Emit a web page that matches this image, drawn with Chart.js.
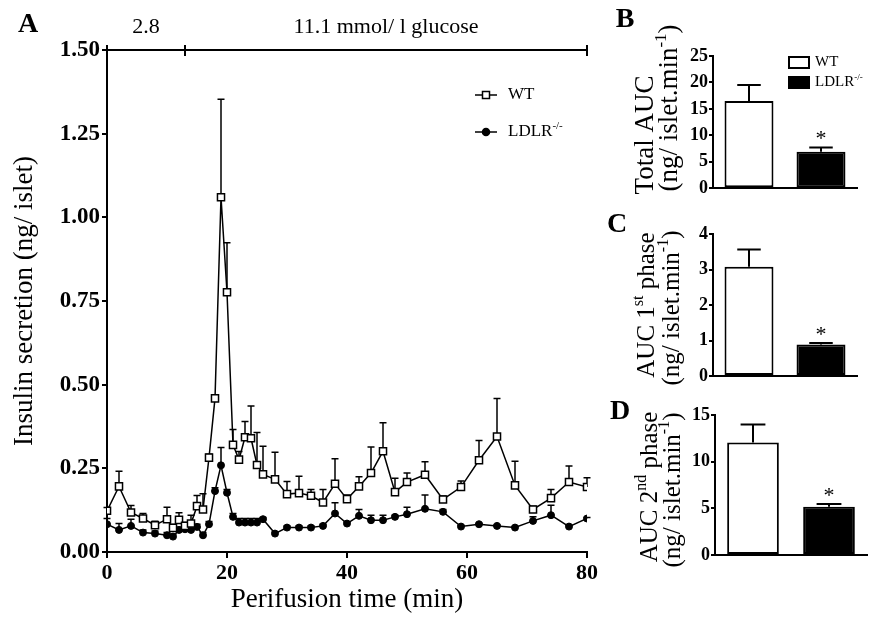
<!DOCTYPE html>
<html><head><meta charset="utf-8">
<script src="https://cdn.jsdelivr.net/npm/chart.js@4.4.0/dist/chart.umd.min.js"></script>
<style>
html,body{margin:0;padding:0;background:#fff;}
body{width:876px;height:619px;position:relative;overflow:hidden;}
canvas{position:absolute;}
</style></head><body>
<canvas id="cA" width="600" height="619" style="left:0;top:0;width:600px;height:619px"></canvas>
<canvas id="cB" width="276" height="200" style="left:600px;top:0;width:276px;height:200px"></canvas>
<canvas id="cC" width="276" height="190" style="left:600px;top:200px;width:276px;height:190px"></canvas>
<canvas id="cD" width="276" height="229" style="left:600px;top:390px;width:276px;height:229px"></canvas>
<script>
// ---------- Panel A data ----------
const times = [0,2,4,6,8,10,11,12,13,14,15,16,17,18,19,20,21,22,23,24,25,26,28,30,32,34,36,38,40,42,44,46,48,50,53,56,59,62,65,68,71,74,77,80];
const wtMean = [0.123,0.196,0.118,0.100,0.080,0.098,0.072,0.096,0.078,0.085,0.137,0.127,0.282,0.459,1.060,0.776,0.320,0.276,0.343,0.340,0.260,0.232,0.217,0.173,0.176,0.168,0.148,0.204,0.158,0.196,0.236,0.301,0.179,0.209,0.231,0.157,0.194,0.274,0.345,0.199,0.127,0.161,0.209,0.194];
const wtSem = [0.010,0.045,0.021,0.015,0.012,0.036,0.010,0.021,0.010,0.025,0.032,0.047,0.010,0.008,0.293,0.148,0.046,0.024,0.047,0.096,0.097,0.084,0.081,0.038,0.050,0.019,0.039,0.075,0.012,0.029,0.078,0.085,0.041,0.027,0.039,0.010,0.018,0.059,0.114,0.072,0.010,0.026,0.048,0.028];
const ldlrMean = [0.083,0.066,0.078,0.058,0.055,0.050,0.046,0.066,0.068,0.066,0.075,0.050,0.083,0.182,0.259,0.177,0.105,0.088,0.088,0.088,0.088,0.098,0.055,0.073,0.073,0.073,0.078,0.115,0.085,0.108,0.095,0.095,0.105,0.113,0.129,0.120,0.076,0.083,0.078,0.073,0.093,0.110,0.076,0.100];
const ldlrSem = [0.017,0.019,0.020,0.008,0.008,0.008,0.008,0.008,0.008,0.008,0.008,0.008,0.008,0.010,0.053,0.010,0.010,0.012,0.012,0.012,0.012,0.005,0.005,0.005,0.005,0.005,0.005,0.032,0.005,0.019,0.015,0.015,0.005,0.021,0.041,0.007,0.003,0.003,0.003,0.003,0.012,0.030,0.003,0.003];
const phaseBreaks = [0, 13, 80];
const phaseLabels = ['2.8', '11.1 mmol/ l glucose'];
const seriesLabels = ['WT', 'LDLR-/-'];
const axisTitleA_x = 'Perifusion time (min)';
const axisTitleA_y = 'Insulin secretion (ng/ islet)';

// ---------- Panels B-D data ----------
const groups = ['WT', 'LDLR-/-'];
const totalAUC = [16.5, 6.9];
const totalSEM = [3.0, 0.8];
const firstAUC = [3.08, 0.89];
const firstSEM = [0.48, 0.04];
const secondAUC = [12.05, 5.18];
const secondSEM = [1.93, 0.28];
const significance = ['', '*'];
const titleB = 'Total AUC';
const titleC = 'AUC 1^st^ phase';
const titleD = 'AUC 2^nd^ phase';
const unitTitle = '(ng/ islet.min^-1^)';

const SERIF = '"Liberation Serif", "Times New Roman", serif';

// text with ^sup^ markup and "-/-" superscripts
function parseRich(s) {
  if (s.endsWith('-/-') && s.indexOf('^') < 0) return [{t: s.slice(0, -3)}, {t: '-/-', sup: true}];
  const parts = s.split('^');
  return parts.map((t, i) => ({t, sup: i % 2 === 1})).filter(p => p.t.length);
}
function drawRich(ctx, s, cx, cy, size, opts = {}) {
  const segs = parseRich(s);
  const weight = opts.bold ? 'bold ' : '';
  ctx.save();
  ctx.translate(cx, cy);
  if (opts.rotate) ctx.rotate(-Math.PI / 2);
  const fonts = segs.map(g => `${weight}${g.sup ? Math.round(size * 0.62) : size}px ${SERIF}`);
  const widths = segs.map((g, i) => { ctx.font = fonts[i]; return ctx.measureText(g.t).width; });
  const total = widths.reduce((a, b) => a + b, 0);
  let x = opts.align === 'left' ? 0 : -total / 2;
  ctx.fillStyle = '#000';
  ctx.textBaseline = 'middle';
  ctx.textAlign = 'left';
  segs.forEach((g, i) => {
    ctx.font = fonts[i];
    ctx.fillText(g.t, x, g.sup ? -size * 0.33 : 0);
    x += widths[i];
  });
  ctx.restore();
}

// ---------- plugins ----------
const lineErrorBars = {
  id: 'lineErrorBars',
  beforeDatasetsDraw(chart) {
    const {ctx, scales: {x, y}} = chart;
    ctx.save();
    ctx.strokeStyle = '#000';
    ctx.lineWidth = 1.5;
    chart.data.datasets.forEach(ds => {
      if (!ds.sem) return;
      ds.data.forEach((p, i) => {
        const e = ds.sem[i];
        if (!e) return;
        const px = x.getPixelForValue(p.x);
        const y0 = y.getPixelForValue(p.y);
        const y1 = y.getPixelForValue(p.y + e);
        ctx.beginPath();
        ctx.moveTo(px, y0); ctx.lineTo(px, y1);
        ctx.moveTo(px - 3.5, y1); ctx.lineTo(px + 3.5, y1);
        ctx.stroke();
      });
    });
    ctx.restore();
  }
};

const glucoseBracket = {
  id: 'glucoseBracket',
  afterDraw(chart) {
    const {ctx, scales: {x, y}} = chart;
    const yy = y.getPixelForValue(y.max);
    ctx.save();
    ctx.strokeStyle = '#000';
    ctx.lineWidth = 2;
    ctx.beginPath();
    ctx.moveTo(x.getPixelForValue(phaseBreaks[0]), yy);
    ctx.lineTo(x.getPixelForValue(phaseBreaks[phaseBreaks.length - 1]), yy);
    ctx.stroke();
    phaseBreaks.forEach(b => {
      const px = x.getPixelForValue(b);
      ctx.beginPath(); ctx.moveTo(px, yy - 5); ctx.lineTo(px, yy + 6); ctx.stroke();
    });
    ctx.fillStyle = '#000';
    ctx.font = `22px ${SERIF}`;
    ctx.textAlign = 'center';
    ctx.textBaseline = 'middle';
    phaseLabels.forEach((t, i) => {
      const cx = (x.getPixelForValue(phaseBreaks[i]) + x.getPixelForValue(phaseBreaks[i + 1])) / 2;
      ctx.fillText(t, cx, yy - 23);
    });
    ctx.restore();
  }
};

const legendA = {
  id: 'legendA',
  afterDraw(chart) {
    const ctx = chart.ctx;
    chart.data.datasets.forEach((ds, i) => {
      const ly = 95 + i * 37;
      ctx.save();
      ctx.strokeStyle = '#000';
      ctx.lineWidth = 1.5;
      ctx.beginPath(); ctx.moveTo(475, ly); ctx.lineTo(497, ly); ctx.stroke();
      ctx.fillStyle = ds.pointBackgroundColor;
      ctx.beginPath();
      if (ds.pointStyle === 'rect') {
        ctx.rect(482.5, ly - 3.5, 7, 7);
      } else {
        ctx.arc(486, ly, ds.pointRadius, 0, Math.PI * 2);
      }
      ctx.fill(); ctx.stroke();
      ctx.restore();
      drawRich(ctx, ds.label, 508, ly, 17, {align: 'left'});
    });
  }
};

function panelText(items) {
  return {
    id: 'panelText',
    afterDraw(chart) {
      const ctx = chart.ctx;
      items.forEach(it => drawRich(ctx, it.text, it.x, it.y, it.size, it));
    }
  };
}

const barDecor = {
  id: 'barDecor',
  afterDatasetsDraw(chart) {
    const {ctx, scales: {y}} = chart;
    const ds = chart.data.datasets[0];
    const meta = chart.getDatasetMeta(0);
    ctx.save();
    ctx.strokeStyle = '#000';
    ctx.lineWidth = 2;
    meta.data.forEach((bar, i) => {
      const top = y.getPixelForValue(ds.data[i]);
      const cap = y.getPixelForValue(ds.data[i] + ds.sem[i]);
      const hw = bar.width * 0.24;
      ctx.beginPath();
      ctx.moveTo(bar.x, top); ctx.lineTo(bar.x, cap);
      ctx.moveTo(bar.x - hw, cap); ctx.lineTo(bar.x + hw, cap);
      ctx.stroke();
      if (ds.sig && ds.sig[i]) {
        ctx.fillStyle = '#000';
        ctx.font = `22px ${SERIF}`;
        ctx.textAlign = 'center';
        ctx.textBaseline = 'alphabetic';
        ctx.fillText(ds.sig[i], bar.x, cap - 2);
      }
    });
    ctx.restore();
  }
};

const legendB = {
  id: 'legendB',
  afterDraw(chart) {
    const ctx = chart.ctx;
    const colors = chart.data.datasets[0].backgroundColor;
    chart.data.labels.forEach((lab, i) => {
      const by = 57 + i * 20;
      ctx.save();
      ctx.fillStyle = colors[i];
      ctx.strokeStyle = '#000';
      ctx.lineWidth = 2;
      ctx.fillRect(189, by, 20, 11);
      ctx.strokeRect(189, by, 20, 11);
      ctx.restore();
      drawRich(ctx, lab, 215, by + 5.5, 15, {align: 'left'});
    });
  }
};

// ---------- Panel A chart ----------
new Chart(document.getElementById('cA'), {
  type: 'line',
  data: {
    datasets: [
      {
        label: seriesLabels[0],
        data: times.map((t, i) => ({x: t, y: wtMean[i]})),
        sem: wtSem,
        borderColor: '#000', borderWidth: 1.5,
        pointStyle: 'rect', pointRadius: 5,
        pointBackgroundColor: '#fff', pointBorderColor: '#000', pointBorderWidth: 1.5,
        tension: 0
      },
      {
        label: seriesLabels[1],
        data: times.map((t, i) => ({x: t, y: ldlrMean[i]})),
        sem: ldlrSem,
        borderColor: '#000', borderWidth: 1.5,
        pointStyle: 'circle', pointRadius: 3.5,
        pointBackgroundColor: '#000', pointBorderColor: '#000', pointBorderWidth: 1,
        tension: 0
      }
    ]
  },
  options: {
    responsive: false, animation: false, devicePixelRatio: 1,
    layout: {padding: {top: 50, right: 11, left: 0, bottom: 0}},
    plugins: {legend: {display: false}, tooltip: {enabled: false}},
    scales: {
      x: {
        type: 'linear', min: 0, max: 80,
        afterFit: s => { s.height = 67; },
        ticks: {stepSize: 20, color: '#000', padding: 2, font: {family: SERIF, size: 22, weight: 'bold'}},
        grid: {drawOnChartArea: false, drawTicks: true, tickLength: 6, color: '#000', lineWidth: 2},
        border: {display: true, color: '#000', width: 2},
        title: {display: true, text: axisTitleA_x, color: '#000', padding: {top: 0, bottom: 3}, font: {family: SERIF, size: 27}}
      },
      y: {
        type: 'linear', min: 0, max: 1.5,
        afterFit: s => { s.width = 107; },
        ticks: {stepSize: 0.25, color: '#000', padding: 2, callback: v => v.toFixed(2), font: {family: SERIF, size: 23, weight: 'bold'}},
        grid: {drawOnChartArea: false, drawTicks: true, tickLength: 5, color: '#000', lineWidth: 2},
        border: {display: true, color: '#000', width: 2},
        title: {display: true, text: axisTitleA_y, color: '#000', padding: {top: 9, bottom: 0}, font: {family: SERIF, size: 27}}
      }
    }
  },
  plugins: [lineErrorBars, glucoseBracket, legendA, panelText([{text: 'A', x: 28, y: 25, size: 28, bold: true}])]
});

// ---------- Bar panels ----------
function barPanel(id, values, sems, ymax, step, padTop, axisLeft, padRight, xHeight, titles, letter, withLegend) {
  const plugins = [barDecor, panelText([letter, ...titles])];
  if (withLegend) plugins.push(legendB);
  return new Chart(document.getElementById(id), {
    type: 'bar',
    data: {
      labels: groups,
      datasets: [{
        data: values, sem: sems, sig: significance,
        backgroundColor: ['#fff', '#000'], borderColor: '#000', borderWidth: 2,
        borderSkipped: false, barPercentage: 0.68, categoryPercentage: 1
      }]
    },
    options: {
      responsive: false, animation: false, devicePixelRatio: 1,
      layout: {padding: {top: padTop, right: padRight, left: 0, bottom: 0}},
      plugins: {legend: {display: false}, tooltip: {enabled: false}},
      scales: {
        x: {
          afterFit: s => { s.height = xHeight; },
          ticks: {display: false},
          grid: {display: false},
          border: {display: true, color: '#000', width: 2}
        },
        y: {
          min: 0, max: ymax,
          afterFit: s => { s.width = axisLeft; },
          ticks: {stepSize: step, color: '#000', padding: 1, font: {family: SERIF, size: 18, weight: 'bold'}},
          grid: {drawOnChartArea: false, drawTicks: true, tickLength: 4, color: '#000', lineWidth: 2},
          border: {display: true, color: '#000', width: 2}
        }
      }
    },
    plugins
  });
}

barPanel('cB', totalAUC, totalSEM, 25, 5, 56, 113, 19, 7,
  [{text: titleB, x: 46, y: 135, size: 27, rotate: true}, {text: unitTitle, x: 70, y: 108, size: 27, rotate: true}],
  {text: 'B', x: 25, y: 20, size: 28, bold: true}, true);
barPanel('cC', firstAUC, firstSEM, 4, 1, 34, 113, 19, 14,
  [{text: titleC, x: 47, y: 105, size: 25, rotate: true}, {text: unitTitle, x: 72, y: 108, size: 25, rotate: true}],
  {text: 'C', x: 17, y: 25, size: 28, bold: true}, false);
barPanel('cD', secondAUC, secondSEM, 15, 5, 25, 115, 9, 64,
  [{text: titleD, x: 50, y: 97, size: 25, rotate: true}, {text: unitTitle, x: 73, y: 100, size: 25, rotate: true}],
  {text: 'D', x: 20, y: 22, size: 28, bold: true}, false);
</script>
</body></html>
